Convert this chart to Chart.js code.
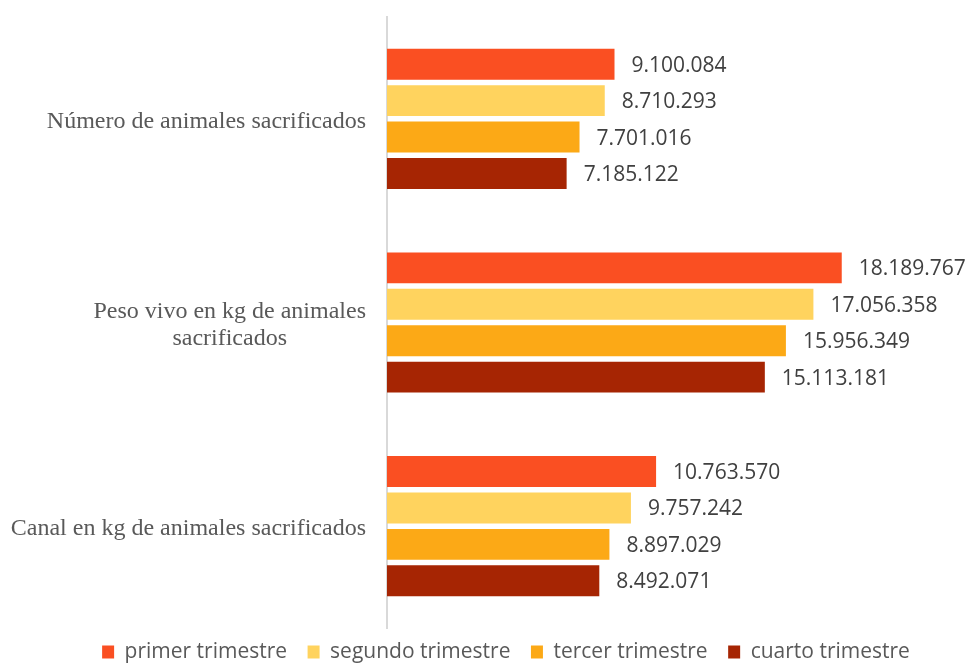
<!DOCTYPE html>
<html>
<head>
<meta charset="utf-8">
<script src="https://cdn.jsdelivr.net/npm/chart.js@4/dist/chart.umd.min.js"></script>
<style>
  html, body { margin: 0; padding: 0; background: #ffffff; }
  #wrap { width: 967px; height: 664px; position: relative; }
</style>
</head>
<body>
<div id="wrap"><canvas id="c" width="967" height="664"></canvas></div>
<script>
const categories = [
  ["Número de animales sacrificados"],
  ["Peso vivo en kg de animales", "sacrificados"],
  ["Canal en kg de animales sacrificados"]
];
const seriesNames = ["primer trimestre", "segundo trimestre", "tercer trimestre", "cuarto trimestre"];
const primer  = [9100084, 18189767, 10763570];
const segundo = [8710293, 17056358, 9757242];
const tercer  = [7701016, 15956349, 8897029];
const cuarto  = [7185122, 15113181, 8492071];
const seriesColors = ["#FA4F22", "#FFD35E", "#FCA916", "#A62503"];

function fmt(v) {
  return String(v).replace(/\B(?=(\d{3})+(?!\d))/g, ".");
}

const valueLabels = {
  id: 'valueLabels',
  afterDatasetsDraw(chart) {
    const ctx = chart.ctx;
    ctx.save();
    ctx.font = '21px "Open Sans"';
    ctx.fillStyle = '#404040';
    ctx.textAlign = 'left';
    ctx.textBaseline = 'middle';
    chart.data.datasets.forEach((ds, di) => {
      const meta = chart.getDatasetMeta(di);
      meta.data.forEach((el, i) => {
        ctx.fillText(fmt(ds.data[i]), el.x + 17, el.y + 1.5);
      });
    });
    ctx.restore();
  }
};

const categoryLabels = {
  id: 'categoryLabels',
  afterDraw(chart) {
    const ctx = chart.ctx;
    const ys = chart.scales.y;
    ctx.save();
    ctx.font = '24px "Liberation Serif"';
    ctx.fillStyle = '#595959';
    ctx.textAlign = 'center';
    ctx.textBaseline = 'middle';
    const rightX = 366;
    const lh = 27;
    categories.forEach((lines, i) => {
      const cy = ys.getPixelForValue(i) + 3;
      const w = Math.max(...lines.map(l => ctx.measureText(l).width));
      const cx = rightX - w / 2;
      lines.forEach((l, j) => {
        ctx.fillText(l, cx, cy + (j - (lines.length - 1) / 2) * lh);
      });
    });
    ctx.restore();
  }
};

const seriesData = [primer, segundo, tercer, cuarto];

new Chart(document.getElementById('c'), {
  type: 'bar',
  data: {
    labels: categories,
    datasets: seriesNames.map((name, i) => ({
      label: name,
      data: seriesData[i],
      backgroundColor: seriesColors[i],
      borderWidth: 0,
      categoryPercentage: 0.715,
      barPercentage: 0.85
    }))
  },
  options: {
    indexAxis: 'y',
    responsive: false,
    animation: false,
    devicePixelRatio: 1,
    layout: { padding: { left: 50, right: 5, top: 17, bottom: 0 } },
    scales: {
      x: {
        display: false,
        min: 0,
        max: 23000000
      },
      y: {
        display: true,
        ticks: { display: false },
        grid: { display: false, drawTicks: false },
        border: { display: true, color: '#D9D9D9', width: 2 },
        afterFit(scale) { scale.width = 337; }
      }
    },
    plugins: {
      tooltip: { enabled: false },
      legend: {
        position: 'bottom',
        maxHeight: 36,
        labels: {
          font: { family: '"Open Sans"', size: 21 },
          color: '#595959',
          boxWidth: 12,
          boxHeight: 13,
          padding: 13.5,
          generateLabels(chart) {
            const n = chart.data.datasets.length;
            return chart.data.datasets.map((ds, i) => ({
              text: ds.label + (i < n - 1 ? '\u2004' : ''),
              fillStyle: ds.backgroundColor,
              strokeStyle: ds.backgroundColor,
              lineWidth: 0,
              hidden: false,
              datasetIndex: i,
              fontColor: '#595959'
            }));
          }
        }
      }
    }
  },
  plugins: [valueLabels, categoryLabels]
});
</script>
</body>
</html>
